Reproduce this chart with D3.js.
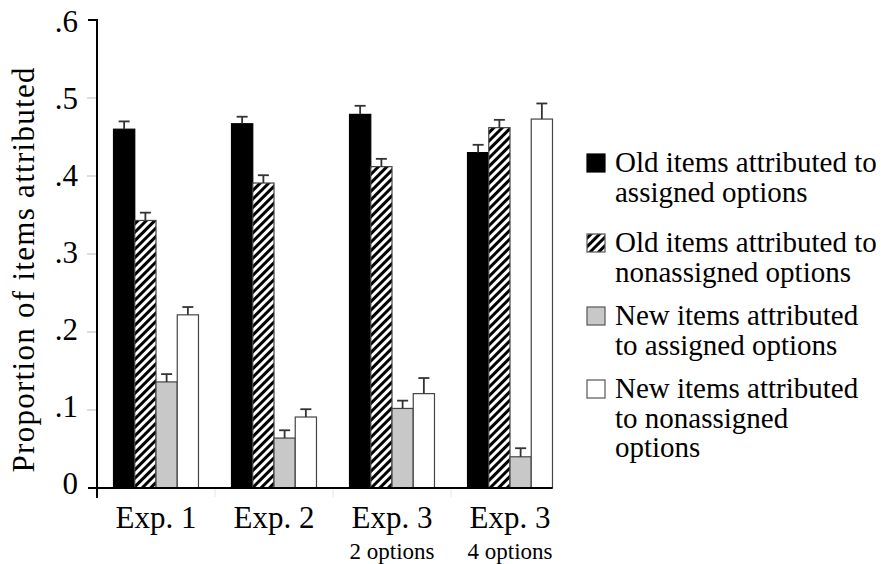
<!DOCTYPE html>
<html>
<head>
<meta charset="utf-8">
<script src="https://cdn.jsdelivr.net/npm/d3@7"></script>
<style>
  html, body { margin: 0; padding: 0; background: #fff; }
  #chart { width: 881px; height: 564px; }
</style>
</head>
<body>
<div id="chart"></div>
<script>
// Chart data
const groupIds = ['exp1', 'exp2', 'exp3a', 'exp3b'];
const groupLabels = ['Exp. 1', 'Exp. 2', 'Exp. 3', 'Exp. 3'];
const groupSubLabels = ['', '', '2 options', '4 options'];

const seriesIds = ['oldAssigned', 'oldNonassigned', 'newAssigned', 'newNonassigned'];
const seriesLabels = [
  ['Old items attributed to', 'assigned options'],
  ['Old items attributed to', 'nonassigned options'],
  ['New items attributed', 'to assigned options'],
  ['New items attributed', 'to nonassigned', 'options']
];

const oldAssigned = [0.460, 0.467, 0.479, 0.430];
const oldAssignedErr = [0.010, 0.009, 0.011, 0.010];
const oldNonassigned = [0.343, 0.391, 0.412, 0.462];
const oldNonassignedErr = [0.010, 0.010, 0.010, 0.010];
const newAssigned = [0.136, 0.064, 0.102, 0.040];
const newAssignedErr = [0.010, 0.010, 0.010, 0.011];
const newNonassigned = [0.222, 0.091, 0.121, 0.473];
const newNonassignedErr = [0.010, 0.010, 0.020, 0.020];

const yTicks = [0, 0.1, 0.2, 0.3, 0.4, 0.5, 0.6];
const yTickLabels = ['0', '.1', '.2', '.3', '.4', '.5', '.6'];

const seriesValues = [oldAssigned, oldNonassigned, newAssigned, newNonassigned];
const seriesErrors = [oldAssignedErr, oldNonassignedErr, newAssignedErr, newNonassignedErr];

// flatten to one record per bar
const bars = [];
groupIds.forEach((g, gi) => {
  seriesIds.forEach((s, si) => {
    bars.push({ group: g, series: s, value: seriesValues[si][gi], err: seriesErrors[si][gi] });
  });
});

const width = 881, height = 564;
const axisX = 97;
const serif = '"Liberation Serif", "Times New Roman", Times, serif';

const svg = d3.select('#chart').append('svg')
  .attr('width', width)
  .attr('height', height)
  .style('font-family', serif);

// hatch pattern for the "/" bars
const defs = svg.append('defs');
const pat = defs.append('pattern')
  .attr('id', 'hatch')
  .attr('patternUnits', 'userSpaceOnUse')
  .attr('width', 6)
  .attr('height', 6)
  .attr('patternTransform', 'rotate(45)');
pat.append('rect').attr('width', 6).attr('height', 6).attr('fill', '#fff');
pat.append('rect').attr('width', 3).attr('height', 6).attr('fill', '#000');

const fills = {
  oldAssigned: '#000',
  oldNonassigned: 'url(#hatch)',
  newAssigned: '#c8c8c8',
  newNonassigned: '#fff'
};

const y = d3.scaleLinear().domain([0, 0.6]).range([488, 20]);
// the printed labels sit on a slightly tighter spacing than the ticks
const yLabel = d3.scaleLinear().domain([0, 0.6]).range([494, 32]);

const x0 = d3.scaleBand()
  .domain(groupIds)
  .range([axisX, axisX + 118 * 4])
  .paddingInner(0.28)
  .paddingOuter(0.14);

const x1 = d3.scaleBand()
  .domain(seriesIds)
  .range([0, x0.bandwidth()]);

// faint tick marks on the left of the axis
svg.append('g')
  .selectAll('line')
  .data(yTicks.filter(t => t > 0 && t < 0.6))
  .enter().append('line')
  .attr('x1', axisX - 10)
  .attr('x2', axisX)
  .attr('y1', d => y(d))
  .attr('y2', d => y(d))
  .attr('stroke', '#bbb')
  .attr('stroke-width', 1);

// tick labels
svg.append('g')
  .selectAll('text')
  .data(yTicks)
  .enter().append('text')
  .attr('x', 78)
  .attr('y', d => yLabel(d))
  .attr('text-anchor', 'end')
  .attr('font-size', 31)
  .text((d, i) => yTickLabels[i]);

// faint separators between groups below the baseline
const seps = groupIds.slice(1).map(g => x0(g) - (x0.step() - x0.bandwidth()) / 2);
svg.append('g')
  .selectAll('line')
  .data(seps)
  .enter().append('line')
  .attr('x1', d => d)
  .attr('x2', d => d)
  .attr('y1', y(0))
  .attr('y2', y(0) + 9)
  .attr('stroke', '#e4e4e4')
  .attr('stroke-width', 1);

// bars
const barG = svg.append('g');
barG.selectAll('rect')
  .data(bars)
  .enter().append('rect')
  .attr('x', d => x0(d.group) + x1(d.series))
  .attr('y', d => y(d.value))
  .attr('width', x1.bandwidth())
  .attr('height', d => y(0) - y(d.value))
  .attr('fill', d => fills[d.series])
  .attr('stroke', d => d.series === 'oldAssigned' ? '#000' : '#444')
  .attr('stroke-width', 1.2);

// error bars
const errG = svg.append('g')
  .attr('stroke', '#333')
  .attr('stroke-width', 1.8);
bars.forEach(d => {
  const cx = x0(d.group) + x1(d.series) + x1.bandwidth() / 2;
  errG.append('line')
    .attr('x1', cx).attr('x2', cx)
    .attr('y1', y(d.value)).attr('y2', y(d.value + d.err));
  errG.append('line')
    .attr('x1', cx - 5.5).attr('x2', cx + 5.5)
    .attr('y1', y(d.value + d.err)).attr('y2', y(d.value + d.err));
});

// axes lines
const lastGroup = groupIds[groupIds.length - 1];
svg.append('line')
  .attr('x1', axisX).attr('x2', axisX)
  .attr('y1', y(0.6) - 1).attr('y2', y(0) + 10)
  .attr('stroke', '#000').attr('stroke-width', 2);
svg.append('line')
  .attr('x1', axisX - 9).attr('x2', axisX + 1)
  .attr('y1', y(0.6)).attr('y2', y(0.6))
  .attr('stroke', '#000').attr('stroke-width', 2);
svg.append('line')
  .attr('x1', axisX - 9).attr('x2', x0(lastGroup) + x0.bandwidth())
  .attr('y1', y(0)).attr('y2', y(0))
  .attr('stroke', '#000').attr('stroke-width', 2);

// category labels
svg.append('g')
  .selectAll('text')
  .data(groupIds)
  .enter().append('text')
  .attr('x', d => x0(d) + x0.bandwidth() / 2)
  .attr('y', 528)
  .attr('text-anchor', 'middle')
  .attr('font-size', 31)
  .text((d, i) => groupLabels[i]);

svg.append('g')
  .selectAll('text')
  .data(groupIds)
  .enter().append('text')
  .attr('x', d => x0(d) + x0.bandwidth() / 2)
  .attr('y', 559)
  .attr('text-anchor', 'middle')
  .attr('font-size', 23)
  .text((d, i) => groupSubLabels[i]);

// y axis title (spread a bit, like the original)
svg.append('text')
  .attr('transform', 'translate(34,270) rotate(-90)')
  .attr('text-anchor', 'middle')
  .attr('font-size', 31)
  .attr('textLength', 405)
  .attr('lengthAdjust', 'spacing')
  .text('Proportion of items attributed');

// legend
const legendBaselines = [172, 252, 325, 398];
const legend = svg.append('g');
seriesIds.forEach((s, i) => {
  const by = legendBaselines[i];
  legend.append('rect')
    .attr('x', 587)
    .attr('y', by - 18)
    .attr('width', 18)
    .attr('height', 18)
    .attr('fill', fills[s])
    .attr('stroke', s === 'oldAssigned' ? '#000' : '#555')
    .attr('stroke-width', 1.2);
  const t = legend.append('text')
    .attr('x', 615)
    .attr('y', by)
    .attr('font-size', 29);
  seriesLabels[i].forEach((line, li) => {
    t.append('tspan')
      .attr('x', 615)
      .attr('y', by + li * 29.5)
      .text(line);
  });
});
</script>
</body>
</html>
